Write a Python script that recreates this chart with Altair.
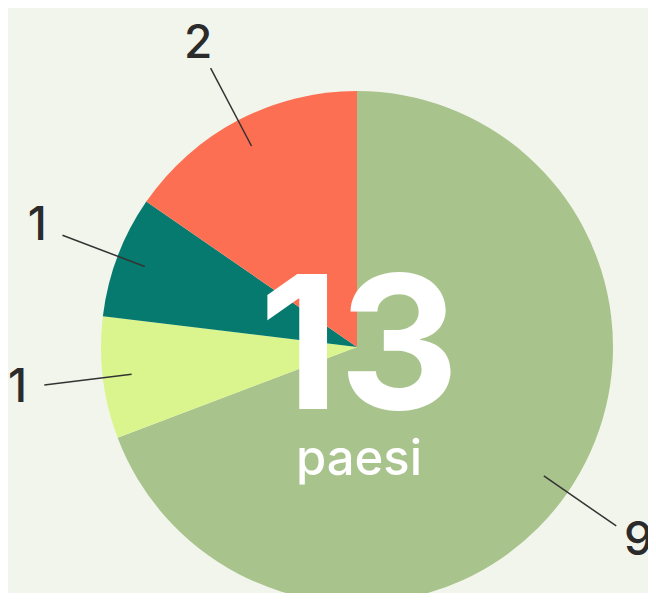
import altair as alt
import pandas as pd

# Data
categories = ["A", "B", "C", "D"]
values = [9, 1, 1, 2]
order = [1, 2, 3, 4]
colors = ["#A8C38C", "#DAF58E", "#077A70", "#FC6F52"]
total_label = "13"
total_sub = "paesi"

df = pd.DataFrame({"cat": categories, "value": values, "order": order,
                   "label": [str(v) for v in values]})

CX, CY = 349, 339
R = 256
R_LINE_IN, R_LINE_OUT, R_LABEL = 227, 315, 342
BG = "#F2F5EB"
FONT = "Inter"

base = alt.Chart(df)

arcs = base.mark_arc(outerRadius=R).encode(
    theta=alt.Theta("value:Q", stack=True),
    order=alt.Order("order:Q"),
    color=alt.Color("cat:N", scale=alt.Scale(domain=categories, range=colors), legend=None),
    x=alt.value(CX),
    y=alt.value(CY),
)

geo = base.transform_window(
    cum="sum(value)", sort=[alt.SortField("order")]
).transform_joinaggregate(
    total="sum(value)"
).transform_calculate(
    mid="(datum.cum - datum.value/2)/datum.total*2*PI",
).transform_calculate(
    x1=f"{CX} + {R_LINE_IN}*sin(datum.mid)",
    y1=f"{CY} - {R_LINE_IN}*cos(datum.mid)",
    x2=f"{CX} + {R_LINE_OUT}*sin(datum.mid)",
    y2=f"{CY} - {R_LINE_OUT}*cos(datum.mid)",
    lx=f"{CX} + {R_LABEL}*sin(datum.mid)",
    ly=f"{CY} - {R_LABEL}*cos(datum.mid)",
)

lines = geo.mark_rule(color="#333333", strokeWidth=1.5).encode(
    x=alt.X("x1:Q", scale=None),
    y=alt.Y("y1:Q", scale=None),
    x2="x2:Q",
    y2="y2:Q",
)

labels = geo.mark_text(font=FONT, fontSize=46, fontWeight=500, color="#2B2B2B",
                       align="center", baseline="middle").encode(
    x=alt.X("lx:Q", scale=None),
    y=alt.Y("ly:Q", scale=None),
    text="label:N",
)

big = alt.Chart(pd.DataFrame({"t": [total_label]})).mark_text(
    font=FONT, fontSize=186, fontWeight="bold", color="white",
    align="center", baseline="alphabetic"
).encode(x=alt.value(CX + 2), y=alt.value(401), text="t:N")

sub = alt.Chart(pd.DataFrame({"t": [total_sub]})).mark_text(
    font=FONT, fontSize=49, fontWeight=500, color="white",
    align="center", baseline="alphabetic"
).encode(x=alt.value(351), y=alt.value(467), text="t:N")

chart = alt.layer(arcs, lines, labels, big, sub).properties(
    width=640, height=585,
    autosize=alt.AutoSizeParams(type="none"),
    padding=0,
    background=BG,
).configure_view(stroke=None)

chart.save("out.html", embed_options={"renderer": "svg", "actions": False})
